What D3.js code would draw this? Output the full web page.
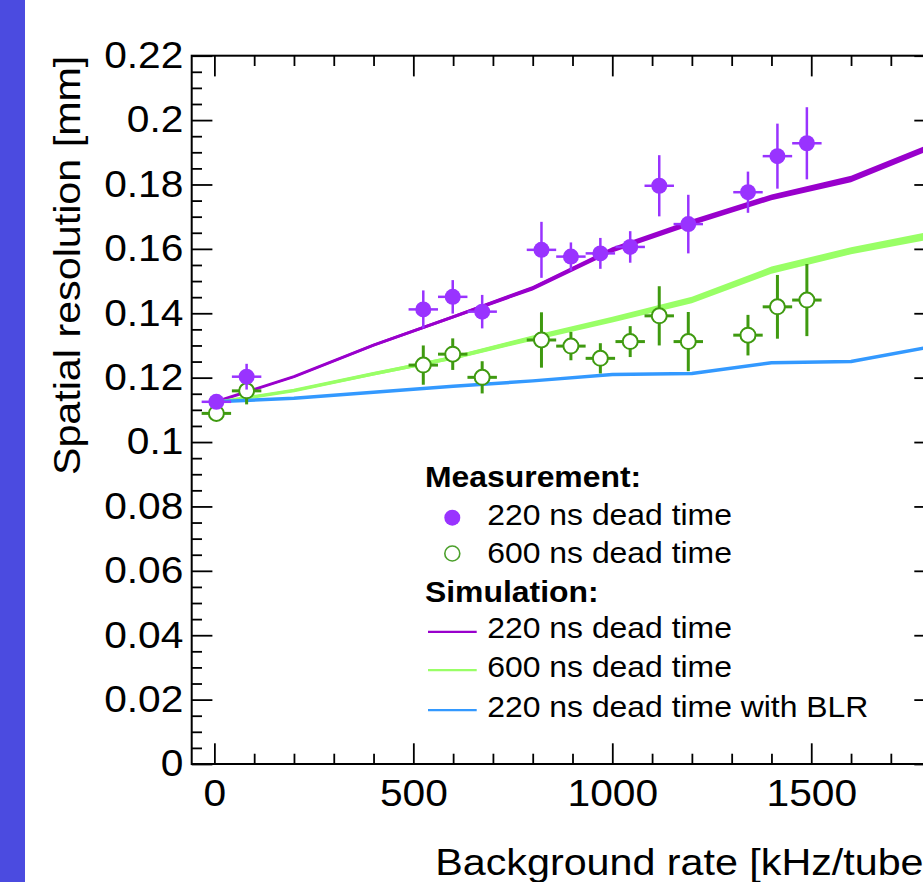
<!DOCTYPE html>
<html>
<head>
<script src="https://d3js.org/d3.v7.min.js"></script>
<style>
  body { margin: 0; background: #fff; }
  svg text { font-family: "Liberation Sans", Arial, sans-serif; fill: #000; }
</style>
</head>
<body>
<div id="chart"></div>
<script>
// measured points (background rate in kHz/tube, resolution in mm)
const rate = [5, 81, 525, 599, 673, 822, 896, 970, 1045, 1118, 1191, 1341, 1415, 1489];
const rateErr = 37;
const res220 = [0.1125, 0.1203, 0.1412, 0.1451, 0.1405, 0.1597, 0.1576, 0.1586, 0.1606, 0.1796, 0.1677, 0.1776, 0.1888, 0.1928];
const err220 = [0.0015, 0.0040, 0.0059, 0.0052, 0.0052, 0.0087, 0.0044, 0.0048, 0.0049, 0.0095, 0.0091, 0.0064, 0.0101, 0.0112];
const res600 = [0.1089, 0.1159, 0.1239, 0.1273, 0.1201, 0.1317, 0.1298, 0.1260, 0.1312, 0.1392, 0.1312, 0.1332, 0.1420, 0.1441];
const err600 = [0.0020, 0.0042, 0.0061, 0.0049, 0.0050, 0.0086, 0.0044, 0.0047, 0.0048, 0.0092, 0.0092, 0.0063, 0.0099, 0.0112];

// simulation (band = statistical spread of the simulation)
const simRate = [0, 200, 400, 600, 800, 1000, 1200, 1400, 1600, 1800];
const sim220 = [0.1124, 0.1203, 0.1301, 0.1389, 0.1478, 0.1597, 0.1682, 0.1760, 0.1817, 0.1917];
const sim220Err = [0.0002, 0.0003, 0.0004, 0.0005, 0.0007, 0.0008, 0.0009, 0.0009, 0.0010, 0.0010];
const sim600 = [0.1122, 0.1160, 0.1212, 0.1262, 0.1323, 0.1380, 0.1441, 0.1534, 0.1594, 0.1642];
const sim600Err = [0.0003, 0.0004, 0.0005, 0.0006, 0.0008, 0.0009, 0.0010, 0.0011, 0.0011, 0.0012];
const simBLR = [0.1125, 0.1136, 0.1155, 0.1173, 0.1190, 0.1210, 0.1213, 0.1246, 0.1250, 0.1296];

const xTicks = [0, 500, 1000, 1500];
const yTicks = [0, 0.02, 0.04, 0.06, 0.08, 0.1, 0.12, 0.14, 0.16, 0.18, 0.2, 0.22];

const width = 923, height = 882;
const frame = { left: 191.7, top: 55.7, right: 935, bottom: 764 };
const purple = "#9933ff", green = "#3f9a10";
const simColors = ["#9900cc", "#99ff66", "#3399ff"];
const sx = 1.1; // ROOT fonts render a bit wider than Liberation Sans

const svg = d3.select("#chart").append("svg")
    .attr("width", width)
    .attr("height", height);

svg.append("rect").attr("width", width).attr("height", height).attr("fill", "#fff");
svg.append("rect").attr("x", 0).attr("y", 0).attr("width", 25).attr("height", height).attr("fill", "#4b4be0");

const x = d3.scaleLinear().domain([-57, 1811]).range([frame.left, frame.right]);
const y = d3.scaleLinear().domain([0, 0.22]).range([frame.bottom, frame.top]);

// axes: ROOT style, ticks inside the frame on all four sides
const xMinor = d3.range(0, 1801, 100).filter(v => v % 500 !== 0);
const yMinor = d3.range(0, 0.2201, 0.005).filter(v => Math.abs(v / 0.02 - Math.round(v / 0.02)) > 1e-6);

function styleAxis(g) {
  g.select(".domain").remove();
  g.selectAll("line").attr("stroke", "#000").attr("stroke-width", 1.8);
}

const gx = svg.append("g").attr("transform", `translate(0,${frame.bottom})`)
    .call(d3.axisBottom(x).tickValues(xTicks).tickSize(-20.7).tickPadding(15.3).tickFormat(d3.format("d")))
    .call(styleAxis);
gx.selectAll("text").attr("font-size", 37).attr("transform", `scale(${sx},1)`);
svg.append("g").attr("transform", `translate(0,${frame.bottom})`)
    .call(d3.axisBottom(x).tickValues(xMinor).tickSize(-10.3).tickFormat(""))
    .call(styleAxis);
svg.append("g").attr("transform", `translate(0,${frame.top})`)
    .call(d3.axisTop(x).tickValues(xTicks).tickSize(-20.7).tickFormat(""))
    .call(styleAxis);
svg.append("g").attr("transform", `translate(0,${frame.top})`)
    .call(d3.axisTop(x).tickValues(xMinor).tickSize(-10.3).tickFormat(""))
    .call(styleAxis);

const gy = svg.append("g").attr("transform", `translate(${frame.left},0)`)
    .call(d3.axisLeft(y).tickValues(yTicks).tickSize(-20.7).tickPadding(7.6).tickFormat(d => d === 0 ? "0" : d3.format("")(+d.toFixed(2))))
    .call(styleAxis);
gy.selectAll("text").attr("font-size", 37).attr("transform", `scale(${sx},1)`);
svg.append("g").attr("transform", `translate(${frame.left},0)`)
    .call(d3.axisLeft(y).tickValues(yMinor).tickSize(-10.3).tickFormat(""))
    .call(styleAxis);
svg.append("g").attr("transform", `translate(${frame.right},0)`)
    .call(d3.axisRight(y).tickValues(yTicks).tickSize(-20.7).tickFormat(""))
    .call(styleAxis);
svg.append("g").attr("transform", `translate(${frame.right},0)`)
    .call(d3.axisRight(y).tickValues(yMinor).tickSize(-10.3).tickFormat(""))
    .call(styleAxis);

svg.append("rect")
    .attr("x", frame.left).attr("y", frame.top)
    .attr("width", frame.right - frame.left).attr("height", frame.bottom - frame.top)
    .attr("fill", "none").attr("stroke", "#000").attr("stroke-width", 2);

// axis titles (right-aligned to the frame end, like ROOT; the frame runs past the page edge)
svg.append("g").attr("transform", `translate(${frame.right},875) scale(${sx},1)`)
  .append("text").attr("text-anchor", "end").attr("font-size", 37.5)
  .text("Background rate [kHz/tube]");
svg.append("g").attr("transform", `translate(80,${frame.top}) rotate(-90) scale(${sx},1)`)
  .append("text").attr("text-anchor", "end").attr("font-size", 37.5)
  .text("Spatial resolution [mm]");

// simulation curves, drawn as thin bands
const plot = svg.append("g");
const simSets = [
  { vals: sim220, err: sim220Err, color: simColors[0], w: 3 },
  { vals: sim600, err: sim600Err, color: simColors[1], w: 3.5 },
  { vals: simBLR, err: null, color: simColors[2], w: 3.5 }
];
simSets.forEach(s => {
  const pts = simRate.map((r, i) => ({ r, v: s.vals[i], e: s.err ? s.err[i] : 0 }));
  if (s.err) {
    plot.append("path").datum(pts)
      .attr("fill", s.color)
      .attr("d", d3.area().x(d => x(d.r)).y0(d => y(d.v - d.e)).y1(d => y(d.v + d.e)));
  }
  plot.append("path").datum(pts)
    .attr("fill", "none").attr("stroke", s.color).attr("stroke-width", s.w)
    .attr("stroke-linejoin", "round")
    .attr("d", d3.line().x(d => x(d.r)).y(d => y(d.v)));
});

// measurements
function drawPoints(vals, errs, color, filled, bw) {
  const pts = rate.map((r, i) => ({ r, v: vals[i], e: errs[i] }));
  const g = plot.append("g");
  g.selectAll("line.h").data(pts).join("line")
    .attr("x1", d => x(d.r - rateErr)).attr("x2", d => x(d.r + rateErr))
    .attr("y1", d => y(d.v)).attr("y2", d => y(d.v))
    .attr("stroke", color).attr("stroke-width", bw);
  g.selectAll("line.v").data(pts).join("line")
    .attr("x1", d => x(d.r)).attr("x2", d => x(d.r))
    .attr("y1", d => y(d.v - d.e)).attr("y2", d => y(d.v + d.e))
    .attr("stroke", color).attr("stroke-width", bw);
  g.selectAll("circle").data(pts).join("circle")
    .attr("cx", d => x(d.r)).attr("cy", d => y(d.v))
    .attr("r", filled ? 8 : 7.5)
    .attr("fill", filled ? color : "#fff")
    .attr("stroke", filled ? "none" : color)
    .attr("stroke-width", 2);
}
drawPoints(res600, err600, green, false, 3);
drawPoints(res220, err220, purple, true, 2.5);

// legend
const leg = svg.append("g").attr("transform", "translate(425,0)");
const legFont = 29;
function legText(tx, ty, txt, bold) {
  leg.append("g").attr("transform", `translate(${tx},${ty}) scale(${sx},1)`)
    .append("text").attr("font-size", legFont).attr("font-weight", bold ? "bold" : null).text(txt);
}
legText(0, 486.7, "Measurement:", true);
leg.append("circle").attr("cx", 27.3).attr("cy", 517.7).attr("r", 8).attr("fill", purple);
legText(62.3, 525, "220 ns dead time");
leg.append("circle").attr("cx", 27.3).attr("cy", 553.5).attr("r", 7.5).attr("fill", "#fff").attr("stroke", "#4ca02c").attr("stroke-width", 1.6);
legText(62.3, 563.3, "600 ns dead time");
legText(0, 601.7, "Simulation:", true);
const simLabels = ["220 ns dead time", "600 ns dead time", "220 ns dead time with BLR"];
const simRowY = [638.3, 676.7, 716.7];
simLabels.forEach((lab, i) => {
  leg.append("line").attr("x1", 3).attr("x2", 51.7)
    .attr("y1", simRowY[i] - 6.5).attr("y2", simRowY[i] - 6.5)
    .attr("stroke", simColors[i]).attr("stroke-width", 2.2);
  legText(62.3, simRowY[i], lab);
});
</script>
</body>
</html>
